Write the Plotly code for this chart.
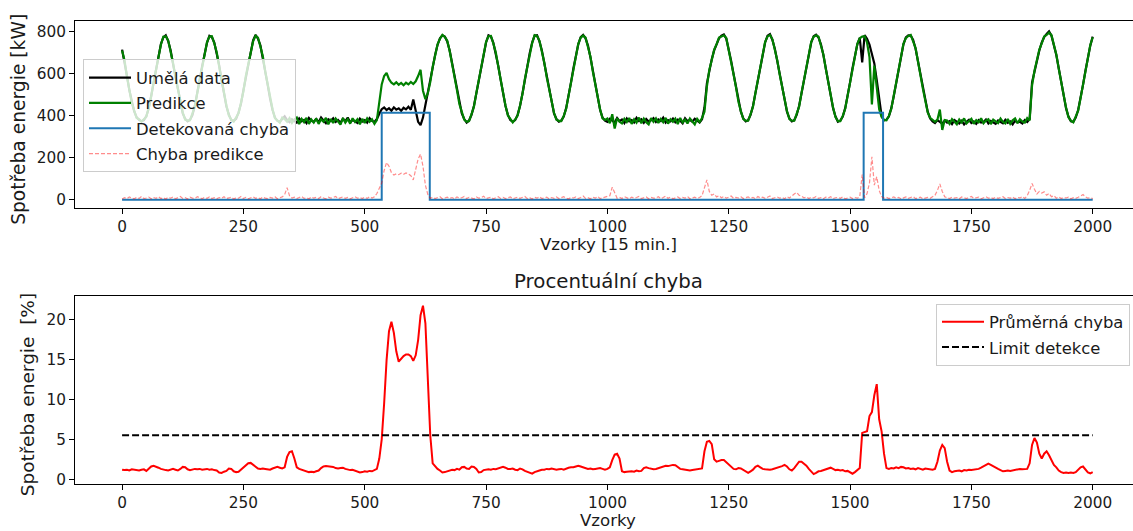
import plotly.graph_objects as go

# ---------------- data (sample index step = 5) ----------------
SAMPLES = list(range(0, 2001, 5))

UMELA_DATA = (
    [716, 662, 592, 522, 466, 421, 394, 381, 375, 380, 399, 436, 496, 558, 629, 688, 743, 774, 784, 757]
    + [713, 648, 589, 518, 464, 412, 386, 374, 382, 404, 449, 505, 575, 638, 702, 748, 782, 776, 750, 698]
    + [642, 571, 509, 445, 407, 379, 377, 386, 417, 458, 522, 585, 652, 710, 760, 786, 768, 737, 678, 617]
    + [548, 482, 428, 392, 376, 372, 386, 398, 380, 370, 384, 376, 368, 388, 374, 381, 366, 390, 377, 372]
    + [385, 370, 392, 378, 365, 384, 376, 389, 371, 380, 367, 386, 374, 392, 369, 381, 375, 366, 387, 373]
    + [380, 368, 389, 376, 371, 385, 410, 432, 440, 428, 437, 425, 441, 430, 436, 424, 439, 431, 444, 429]
    + [478, 430, 372, 356, 392, 452, 507, 566, 630, 690, 738, 770, 784, 778, 755, 712, 650, 587, 520, 460]
    + [412, 385, 368, 378, 405, 447, 507, 573, 640, 700, 750, 784, 778, 748, 700, 640, 573, 507, 447, 405]
    + [380, 372, 380, 405, 447, 507, 573, 640, 700, 750, 782, 784, 755, 712, 650, 587, 520, 460, 412, 385]
    + [373, 378, 397, 437, 494, 560, 627, 690, 741, 776, 786, 770, 735, 680, 615, 548, 482, 428, 392, 378]
    + [372, 386, 377, 368, 390, 375, 383, 366, 388, 374, 380, 369, 391, 376, 384, 367, 385, 373, 379, 389]
    + [371, 383, 376, 392, 368, 380, 374, 387, 370, 382, 377, 365, 389, 375, 381, 372, 386, 378, 369, 384]
    + [440, 555, 615, 670, 712, 745, 770, 782, 788, 768, 720, 662, 600, 533, 470, 420, 388, 374, 380, 405]
    + [447, 507, 573, 640, 700, 750, 782, 790, 762, 720, 662, 600, 533, 470, 420, 388, 374, 380, 405, 447]
    + [507, 573, 640, 700, 750, 780, 787, 774, 741, 690, 627, 560, 494, 437, 397, 372, 378, 397, 437, 494]
    + [560, 627, 690, 741, 772, 655, 785, 768, 740, 700, 650, 570, 480, 400, 378, 382, 397, 437, 494, 560]
    + [627, 690, 741, 774, 784, 783, 762, 720, 662, 600, 533, 470, 420, 388, 374, 366, 380, 372, 363, 378]
    + [368, 375, 361, 380, 370, 364, 377, 359, 372, 381, 366, 374, 362, 379, 368, 371, 383, 364, 376, 369]
    + [362, 378, 370, 365, 381, 367, 374, 360, 377, 369, 372, 364, 380, 371, 385, 560, 610, 665, 712, 750]
    + [776, 790, 803, 782, 741, 690, 627, 560, 494, 437, 397, 374, 372, 392, 428, 482, 548, 615, 680, 735]
    + [778]
)

PREDIKCE = (
    [712, 665, 588, 526, 462, 425, 390, 384, 372, 384, 396, 440, 492, 562, 625, 692, 739, 778, 780, 760]
    + [709, 652, 585, 522, 460, 416, 382, 378, 379, 408, 445, 509, 571, 642, 698, 752, 778, 780, 746, 703]
    + [637, 576, 504, 450, 402, 383, 373, 391, 412, 463, 517, 590, 647, 715, 755, 782, 773, 731, 684, 612]
    + [552, 478, 432, 389, 379, 368, 392, 385, 372, 389, 367, 383, 392, 361, 386, 370, 391, 362, 383, 368]
    + [388, 362, 384, 372, 391, 360, 385, 366, 388, 374, 359, 390, 368, 385, 363, 389, 371, 384, 360, 386]
    + [366, 388, 372, 384, 362, 380, 470, 550, 590, 605, 575, 558, 550, 560, 548, 557, 546, 558, 550, 562]
    + [552, 565, 590, 620, 520, 480, 508, 562, 633, 688, 741, 768, 786, 776, 758, 709, 653, 584, 523, 457]
    + [415, 382, 372, 375, 408, 444, 510, 570, 643, 697, 753, 780, 781, 745, 703, 637, 576, 504, 450, 402]
    + [383, 369, 383, 402, 450, 504, 576, 637, 703, 747, 785, 781, 758, 709, 653, 584, 523, 457, 415, 382]
    + [376, 375, 400, 434, 497, 557, 630, 687, 744, 773, 783, 773, 732, 683, 612, 551, 479, 431, 389, 381]
    + [388, 365, 408, 340, 389, 372, 364, 386, 371, 390, 362, 384, 368, 392, 365, 387, 370, 360, 389, 372]
    + [388, 366, 385, 370, 391, 363, 384, 372, 387, 361, 390, 369, 382, 364, 388, 373, 360, 386, 371, 390]
    + [420, 540, 620, 665, 716, 742, 773, 779, 784, 771, 717, 665, 597, 536, 467, 423, 385, 377, 377, 408]
    + [444, 510, 570, 643, 697, 753, 779, 786, 765, 717, 665, 597, 536, 467, 423, 385, 377, 377, 408, 444]
    + [510, 570, 643, 697, 753, 777, 784, 777, 738, 693, 624, 563, 491, 440, 394, 375, 375, 400, 434, 497]
    + [557, 630, 687, 744, 770, 778, 780, 750, 680, 455, 640, 520, 432, 395, 381, 379, 400, 434, 497, 557]
    + [630, 687, 744, 771, 781, 786, 759, 723, 659, 603, 530, 473, 417, 391, 380, 372, 382, 430, 333, 380]
    + [378, 362, 385, 371, 360, 383, 369, 388, 364, 376, 386, 362, 380, 370, 389, 365, 378, 384, 361, 382]
    + [375, 366, 387, 371, 364, 385, 362, 379, 388, 365, 384, 373, 368, 390, 378, 545, 615, 660, 716, 746]
    + [779, 786, 797, 785, 738, 693, 624, 563, 491, 440, 394, 377, 369, 395, 425, 485, 545, 618, 677, 738]
    + [775]
)

CHYBA_PREDIKCE = (
    [4, 10, 6, 14, 8, 5, 12, 7, 16, 6, 9, 13, 5, 11, 7, 15, 6, 10, 4, 12]
    + [8, 14, 5, 9, 16, 7, 11, 4, 13, 8, 6, 15, 9, 5, 12, 7, 14, 6, 10, 5]
    + [11, 7, 15, 6, 9, 13, 4, 10, 8, 16, 6, 12, 5, 9, 14, 7, 11, 5, 13, 8]
    + [6, 12, 8, 15, 5, 10, 14, 25, 58, 20, 9, 13, 6, 11, 16, 7, 10, 5, 14, 8]
    + [12, 6, 15, 9, 5, 13, 8, 11, 16, 6, 10, 14, 7, 12, 5, 9, 15, 8, 11, 6]
    + [13, 7, 15, 9, 15, 30, 55, 80, 140, 178, 160, 130, 118, 124, 120, 127, 122, 128, 124, 115]
    + [95, 150, 195, 218, 160, 70, 25, 8, 12, 6, 10, 15, 5, 9, 13, 7, 11, 4, 14, 8]
    + [10, 16, 6, 12, 9, 5, 14, 8, 11, 17, 6, 10, 13, 5, 9, 15, 7, 12, 6, 10]
    + [14, 5, 9, 13, 7, 11, 16, 6, 10, 4, 12, 8, 15, 6, 9, 13, 5, 11, 7, 14]
    + [6, 10, 15, 8, 5, 12, 9, 14, 6, 11, 18, 7, 10, 5, 13, 8, 16, 6, 9, 12]
    + [14, 20, 60, 30, 8, 12, 6, 15, 9, 5, 13, 8, 11, 16, 6, 10, 14, 5, 12, 8]
    + [9, 15, 6, 11, 18, 7, 13, 5, 10, 14, 6, 12, 8, 16, 5, 9, 13, 7, 11, 20]
    + [60, 95, 40, 22, 28, 14, 20, 10, 16, 8, 13, 18, 7, 12, 9, 15, 6, 11, 14, 8]
    + [12, 5, 16, 9, 13, 7, 11, 18, 6, 10, 14, 8, 12, 5, 15, 9, 20, 28, 35, 22]
    + [18, 10, 14, 6, 12, 9, 16, 7, 11, 5, 13, 8, 15, 6, 10, 12, 7, 14, 5, 9]
    + [13, 6, 11, 8, 15, 120, 10, 30, 80, 205, 70, 110, 45, 15, 8, 12, 6, 10, 14, 7]
    + [12, 5, 9, 14, 7, 11, 16, 6, 10, 13, 5, 9, 12, 7, 15, 22, 45, 76, 40, 15]
    + [10, 6, 13, 8, 11, 5, 14, 9, 6, 12, 16, 7, 10, 13, 5, 9, 15, 8, 11, 6]
    + [13, 7, 10, 15, 6, 11, 8, 14, 5, 12, 9, 16, 7, 20, 45, 78, 50, 28, 40, 32]
    + [38, 22, 30, 15, 20, 8, 14, 6, 11, 9, 13, 5, 10, 7, 12, 18, 25, 14, 8, 11]
    + [6]
)

# detected-fault flag: level changes (step function)
DETEKCE_X = [0, 535, 634, 1528, 1568, 2000]
DETEKCE_Y = [0, 415, 0, 415, 0, 0]

PRUMERNA_CHYBA = (
    [1.2, 1.15, 1.2, 1.1, 1.25, 1.2, 1.15, 1.1, 1.2, 1.25, 1.05, 1.3, 1.6, 1.7, 1.6, 1.45, 1.3, 1.2, 1.15, 1.1]
    + [1.25, 1.3, 1.2, 1.1, 1.3, 1.55, 1.5, 1.25, 1.15, 1.2, 1.3, 1.25, 1.3, 1.2, 1.25, 1.3, 1.2, 1.25, 1.15, 1.1]
    + [0.85, 0.8, 0.95, 1.05, 1.35, 1.3, 1.0, 0.9, 0.95, 1.2, 1.5, 1.8, 2.0, 2.05, 1.8, 1.55, 1.35, 1.3, 1.35, 1.3]
    + [1.25, 1.2, 1.35, 1.45, 1.55, 1.45, 1.35, 1.5, 2.8, 3.4, 3.5, 2.6, 1.5, 1.3, 1.2, 1.1, 0.95, 0.9, 0.95, 0.9]
    + [1.0, 1.1, 1.4, 1.6, 1.65, 1.6, 1.6, 1.55, 1.4, 1.35, 1.4, 1.45, 1.3, 1.25, 1.15, 1.2, 1.1, 1.0, 0.85, 0.9]
    + [1.0, 0.95, 1.05, 1.0, 1.15, 1.3, 2.6, 5.0, 9.5, 14.9, 18.5, 19.7, 18.3, 16.0, 14.7, 15.1, 15.4, 15.6, 15.6, 15.4]
    + [14.8, 15.5, 17.4, 20.5, 21.7, 19.5, 13.0, 5.5, 2.0, 1.6, 1.3, 1.1, 0.85, 0.9, 1.0, 1.05, 1.2, 1.15, 1.3, 1.2]
    + [1.5, 1.55, 1.35, 1.3, 1.6, 1.55, 1.3, 0.85, 0.9, 1.15, 1.2, 1.25, 1.2, 1.3, 1.25, 1.35, 1.4, 1.55, 1.45, 1.3]
    + [1.3, 1.35, 1.2, 1.15, 1.35, 1.25, 1.05, 0.9, 0.75, 0.7, 0.9, 1.05, 1.1, 1.2, 1.2, 1.3, 1.25, 1.35, 1.3, 1.2]
    + [1.25, 1.3, 1.2, 1.35, 1.45, 1.5, 1.5, 1.6, 1.7, 1.6, 1.5, 1.45, 1.3, 1.35, 1.25, 1.3, 1.35, 1.4, 1.3, 1.2]
    + [1.3, 1.5, 2.4, 3.1, 3.2, 2.6, 1.0, 0.9, 0.95, 1.0, 1.0, 0.95, 1.1, 1.0, 1.05, 1.4, 1.5, 1.4, 1.3, 1.25]
    + [1.3, 1.4, 1.5, 1.6, 1.7, 1.65, 1.75, 1.8, 1.75, 1.5, 1.3, 1.25, 1.2, 1.2, 1.1, 1.15, 1.2, 1.25, 1.3, 1.35]
    + [3.5, 4.7, 4.8, 4.4, 2.5, 2.2, 2.3, 2.4, 2.4, 2.1, 1.8, 1.5, 1.3, 1.25, 1.4, 1.35, 1.2, 1.0, 0.8, 1.0]
    + [1.2, 1.55, 1.7, 1.5, 1.3, 1.25, 1.2, 1.2, 1.25, 1.35, 1.4, 1.5, 1.65, 1.8, 1.6, 1.25, 1.1, 1.4, 1.8, 2.2]
    + [2.2, 2.0, 1.7, 1.3, 0.9, 0.65, 0.8, 1.0, 1.05, 1.15, 1.2, 1.35, 1.45, 1.3, 1.15, 1.2, 1.1, 1.15, 1.0, 1.05]
    + [0.9, 0.7, 0.9, 1.2, 1.4, 5.8, 5.9, 6.0, 7.9, 8.4, 10.5, 11.9, 7.5, 6.0, 3.2, 1.4, 1.3, 1.4, 1.35, 1.5]
    + [1.4, 1.55, 1.5, 1.35, 1.4, 1.3, 1.35, 1.25, 1.4, 1.3, 1.2, 1.35, 1.3, 1.25, 1.2, 1.3, 2.2, 3.6, 4.3, 3.9]
    + [2.2, 1.1, 0.9, 1.0, 1.05, 1.1, 1.0, 1.15, 1.1, 1.2, 1.15, 1.2, 1.3, 1.3, 1.45, 1.6, 1.8, 1.95, 1.8, 1.6]
    + [1.5, 1.3, 1.15, 1.0, 1.05, 1.1, 1.05, 1.1, 1.2, 1.25, 1.3, 1.25, 1.3, 1.3, 2.0, 4.3, 5.15, 4.6, 3.2, 2.6]
    + [3.2, 3.5, 3.0, 2.3, 1.8, 1.5, 1.1, 0.9, 0.8, 0.85, 0.8, 0.85, 0.8, 0.9, 1.15, 1.5, 1.6, 1.2, 0.85, 0.75]
    + [0.9]
)

LIMIT_X = [0, 2000]
LIMIT_DETEKCE = [5.5, 5.5]

X_TICKS = [0, 250, 500, 750, 1000, 1250, 1500, 1750, 2000]
Y1_TICKS = [0, 200, 400, 600, 800]
Y2_TICKS = [0, 5, 10, 15, 20]

for arr in (UMELA_DATA, PREDIKCE, CHYBA_PREDIKCE, PRUMERNA_CHYBA):
    assert len(arr) == len(SAMPLES), len(arr)

# ---------------- figure ----------------
W, H = 1133, 531
FONT = "DejaVu Sans"
TXT = "#1a1a1a"


def fx(px):
    return px / W


def fy(py):
    return 1 - py / H


fig = go.Figure()

fig.add_trace(go.Scatter(x=SAMPLES, y=UMELA_DATA, mode="lines", name="Umělá data",
                         line=dict(color="black", width=2.2), xaxis="x", yaxis="y",
                         legend="legend", legendgroup="g1"))
fig.add_trace(go.Scatter(x=SAMPLES, y=PREDIKCE, mode="lines", name="Predikce",
                         line=dict(color="green", width=2.2), xaxis="x", yaxis="y",
                         legend="legend", legendgroup="g2"))
fig.add_trace(go.Scatter(x=DETEKCE_X, y=DETEKCE_Y, mode="lines", name="Detekovaná chyba",
                         line=dict(color="#1f77b4", width=2, shape="hv"), xaxis="x", yaxis="y",
                         legend="legend", legendgroup="g3"))
fig.add_trace(go.Scatter(x=SAMPLES, y=CHYBA_PREDIKCE, mode="lines", name="Chyba predikce",
                         line=dict(color="rgba(255,0,0,0.45)", width=1.2, dash="4px,2px"),
                         xaxis="x", yaxis="y", legend="legend", legendgroup="g4"))

fig.add_trace(go.Scatter(x=SAMPLES, y=PRUMERNA_CHYBA, mode="lines", name="Průměrná chyba",
                         line=dict(color="red", width=2), xaxis="x2", yaxis="y2",
                         legend="legend2", legendgroup="h1"))
fig.add_trace(go.Scatter(x=LIMIT_X, y=LIMIT_DETEKCE, mode="lines", name="Limit detekce",
                         line=dict(color="black", width=2, dash="7px,3px"), xaxis="x2", yaxis="y2",
                         legend="legend2", legendgroup="h2"))

axis_common = dict(showgrid=False, zeroline=False, showline=True, linecolor="black", linewidth=1,
                   ticks="outside", ticklen=5, tickwidth=1, tickcolor="black",
                   tickfont=dict(family=FONT, size=15.3, color=TXT))

legend_common = dict(bgcolor="rgba(255,255,255,0.8)", bordercolor="#cccccc", borderwidth=1,
                     font=dict(family=FONT, size=16.4, color=TXT), xanchor="left", yanchor="top",
                     traceorder="grouped", tracegroupgap=1, itemwidth=42)

fig.update_layout(
    width=W, height=H, margin=dict(l=0, r=0, t=0, b=0),
    paper_bgcolor="white", plot_bgcolor="white", showlegend=True,
    xaxis=dict(domain=[fx(75), 1], anchor="y", range=[-97, 2083], tickvals=X_TICKS,
               mirror=True, **axis_common),
    yaxis=dict(domain=[fy(210), fy(21.7)], anchor="x", range=[-39, 850], tickvals=Y1_TICKS,
               mirror=False, **axis_common),
    xaxis2=dict(domain=[fx(75), 1], anchor="y2", range=[-97, 2083], tickvals=X_TICKS,
                mirror=True, **axis_common),
    yaxis2=dict(domain=[fy(488.3), fy(299.3)], anchor="x2", range=[-0.55, 22.85], tickvals=Y2_TICKS,
                mirror=False, **axis_common),
    legend=dict(x=fx(83), y=fy(60), **legend_common),
    legend2=dict(x=fx(936), y=fy(306.5), **legend_common),
    annotations=[
        dict(text="Spotřeba energie [kW]", x=fx(19), y=fy(121), xref="paper", yref="paper",
             textangle=-90, showarrow=False, xanchor="center", yanchor="middle",
             font=dict(family=FONT, size=18.7, color=TXT)),
        dict(text="Vzorky [15 min.]", x=fx(608), y=fy(247), xref="paper", yref="paper",
             showarrow=False, xanchor="center", yanchor="middle",
             font=dict(family=FONT, size=16.6, color=TXT)),
        dict(text="Procentuální chyba", x=fx(608), y=fy(284.5), xref="paper", yref="paper",
             showarrow=False, xanchor="center", yanchor="middle",
             font=dict(family=FONT, size=19.8, color=TXT)),
        dict(text="Spotřeba energie\u00a0\u00a0[%]", x=fx(27), y=fy(399), xref="paper", yref="paper",
             textangle=-90, showarrow=False, xanchor="center", yanchor="middle",
             font=dict(family=FONT, size=18.5, color=TXT)),
        dict(text="Vzorky", x=fx(608), y=fy(525), xref="paper", yref="paper",
             showarrow=False, xanchor="center", yanchor="middle",
             font=dict(family=FONT, size=16.6, color=TXT)),
    ],
)

fig.write_html("out.html")
